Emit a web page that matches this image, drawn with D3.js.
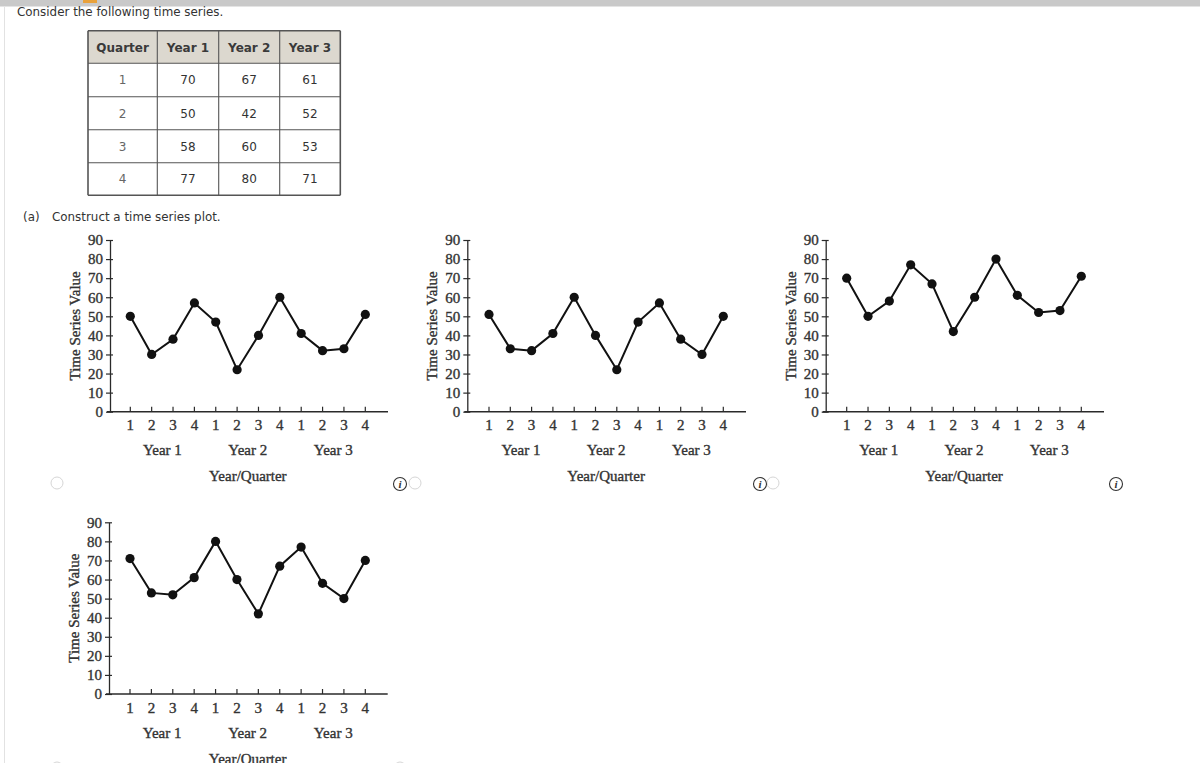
<!DOCTYPE html>
<html><head><meta charset="utf-8">
<script src="https://cdn.jsdelivr.net/npm/d3@7"></script>
<style>
html,body{margin:0;padding:0;background:#fff;overflow:hidden;}
svg{display:block;}
</style></head>
<body>
<svg id="chart" width="1200" height="763"></svg>
<script>
// ---------- data ----------
const tableHeader = ["Quarter", "Year 1", "Year 2", "Year 3"];
const quarterLabels = ["1", "2", "3", "4"];
const year1 = [70, 50, 58, 77];
const year2 = [67, 42, 60, 80];
const year3 = [61, 52, 53, 71];
const yearLabels = ["Year 1", "Year 2", "Year 3"];
const xTickLabels = ["1","2","3","4","1","2","3","4","1","2","3","4"];
const yTicks = [0, 10, 20, 30, 40, 50, 60, 70, 80, 90];
const seriesA = [50, 30, 38, 57, 47, 22, 40, 60, 41, 32, 33, 51];
const seriesB = [51, 33, 32, 41, 60, 40, 22, 47, 57, 38, 30, 50];
const seriesC = [70, 50, 58, 77, 67, 42, 60, 80, 61, 52, 53, 71];
const seriesD = [71, 53, 52, 61, 80, 60, 42, 67, 77, 58, 50, 70];

const svg = d3.select("#chart");
const serif = "'Liberation Serif','Times New Roman',serif";
const sans = "'DejaVu Sans',Verdana,sans-serif";

// ---------- page chrome ----------
svg.append("rect").attr("x",0).attr("y",0).attr("width",1200).attr("height",6).attr("fill","#c9c9c9");
svg.append("rect").attr("x",0).attr("y",6).attr("width",1200).attr("height",1).attr("fill","#e4e4e4");
svg.append("rect").attr("x",83).attr("y",0).attr("width",14).attr("height",3).attr("fill","#e9a23b");
svg.append("line").attr("x1",4.5).attr("x2",4.5).attr("y1",7).attr("y2",763).attr("stroke","#e2e2e2");

svg.append("text").attr("x",17).attr("y",15.5).attr("font-family",sans).attr("font-size",11.9)
  .attr("fill","#333").text("Consider the following time series.");
svg.append("text").attr("x",23).attr("y",220.5).attr("font-family",sans).attr("font-size",11.9)
  .attr("fill","#333").text("(a)");
svg.append("text").attr("x",52).attr("y",220.5).attr("font-family",sans).attr("font-size",11.9)
  .attr("fill","#333").text("Construct a time series plot.");

// ---------- table ----------
const colX = [88, 157.3, 218.7, 279.7, 340.3];
const rowY = [30.7, 63.3, 96.7, 129.7, 162.7, 195.3];
const tg = svg.append("g");
tg.append("rect").attr("x",colX[0]).attr("y",rowY[0]).attr("width",colX[4]-colX[0]).attr("height",rowY[1]-rowY[0])
  .attr("fill","#dcd8cf");
const tableRows = quarterLabels.map((q,i)=>[q, year1[i], year2[i], year3[i]]);
tableHeader.forEach((h,j)=>{
  tg.append("text").attr("x",(colX[j]+colX[j+1])/2).attr("y",(rowY[0]+rowY[1])/2+4.5)
    .attr("text-anchor","middle").attr("font-family",sans).attr("font-weight","bold").attr("font-size",12)
    .attr("fill","#3a3a3a").text(h);
});
tableRows.forEach((r,i)=>{
  r.forEach((v,j)=>{
    tg.append("text").attr("x",(colX[j]+colX[j+1])/2).attr("y",(rowY[i+1]+rowY[i+2])/2+4.3)
      .attr("text-anchor","middle").attr("font-family",sans).attr("font-size",12)
      .attr("fill", j===0 ? "#666" : "#333").text(v);
  });
});
colX.forEach((x,j)=>{
  tg.append("line").attr("x1",x).attr("x2",x).attr("y1",rowY[0]).attr("y2",rowY[5])
    .attr("stroke","#555").attr("stroke-width",(j===0||j===4)?1.6:1.1);
});
rowY.forEach((y,i)=>{
  tg.append("line").attr("x1",colX[0]).attr("x2",colX[4]).attr("y1",y).attr("y2",y)
    .attr("stroke","#555").attr("stroke-width",(i===0||i===5)?1.6:1.1);
});

// ---------- charts ----------
function serifText(sel){
  return sel.attr("font-family",serif).attr("font-size",15).attr("fill","#333")
    .attr("stroke","#333").attr("stroke-width",0.35);
}
function drawChart(values, ax, y0, firstTick, lastTick, axisEnd){
  const g = svg.append("g");
  const x = d3.scaleLinear().domain([0, 11]).range([firstTick, lastTick]);
  const y = d3.scaleLinear().domain([0, 90]).range([y0, y0 - 171.7]);
  const col = "#2a2a2a";

  // y axis
  const yAxis = d3.axisLeft(y).tickValues(yTicks).tickSize(4).tickSizeOuter(0).tickPadding(3);
  const ya = g.append("g").attr("transform",`translate(${ax},0)`).call(yAxis);
  ya.select(".domain").attr("stroke",col).attr("stroke-width",1.3);
  ya.selectAll(".tick line").attr("stroke",col).attr("stroke-width",1.2).attr("x1",3).attr("x2",-4);
  serifText(ya.selectAll(".tick text"));

  // x axis
  g.append("line").attr("x1",ax-3).attr("x2",axisEnd).attr("y1",y0).attr("y2",y0)
    .attr("stroke",col).attr("stroke-width",1.4);
  const idx = d3.range(values.length);
  g.selectAll(".xt").data(idx).enter().append("line")
    .attr("x1",d=>x(d)).attr("x2",d=>x(d)).attr("y1",y0-5).attr("y2",y0)
    .attr("stroke",col).attr("stroke-width",1.2);
  serifText(g.selectAll(".xl").data(idx).enter().append("text")
    .attr("x",d=>x(d)).attr("y",y0+18.5).attr("text-anchor","middle")).text(d=>xTickLabels[d]);
  yearLabels.forEach((t,k)=>{
    serifText(g.append("text").attr("x",(x(k*4)+x(k*4+3))/2).attr("y",y0+43.5).attr("text-anchor","middle")).text(t);
  });
  serifText(g.append("text").attr("x",(x(0)+x(11))/2).attr("y",y0+69.5).attr("text-anchor","middle")).text("Year/Quarter");
  serifText(g.append("text").attr("transform",`translate(${ax-30},${y(45)}) rotate(-90)`).attr("text-anchor","middle"))
    .text("Time Series Value");

  // line + points
  const line = d3.line().x((d,i)=>x(i)).y(d=>y(d));
  g.append("path").datum(values).attr("d",line).attr("fill","none").attr("stroke","#111").attr("stroke-width",2);
  g.selectAll(".pt").data(values).enter().append("circle")
    .attr("cx",(d,i)=>x(i)).attr("cy",d=>y(d)).attr("r",4.6).attr("fill","#111");
}

drawChart(seriesA, 110, 411.7, 130.3, 365.3, 388);
drawChart(seriesB, 467.3, 411.7, 489, 723.3, 746);
drawChart(seriesC, 825.7, 411.7, 846.7, 1081.3, 1104);
drawChart(seriesD, 109, 694, 130, 365.3, 387.7);

// ---------- radio buttons and info icons ----------
const radios = [[57,483],[415,483],[773,483],[57,768],[400,768]];
radios.forEach(([cx,cy])=>{
  svg.append("circle").attr("cx",cx).attr("cy",cy).attr("r",6).attr("fill","none").attr("stroke","#d6d6d6").attr("stroke-width",1);
});
const infos = [[400,484],[760,484],[1116,484]];
infos.forEach(([cx,cy])=>{
  svg.append("circle").attr("cx",cx).attr("cy",cy).attr("r",6.5).attr("fill","#fff").attr("stroke","#333").attr("stroke-width",1.1);
  svg.append("text").attr("x",cx).attr("y",cy+4).attr("text-anchor","middle").attr("font-family",serif)
    .attr("font-style","italic").attr("font-weight","bold").attr("font-size",11).attr("fill","#333").text("i");
});
</script>
</body></html>
